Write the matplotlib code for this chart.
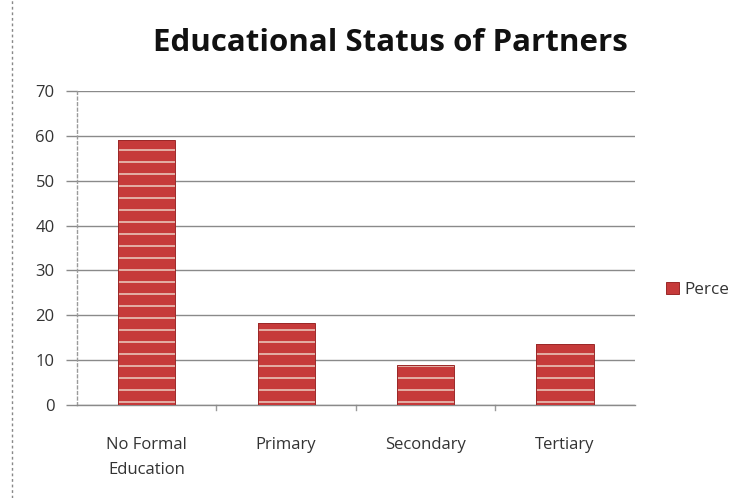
import matplotlib
matplotlib.use("Agg")
import matplotlib.pyplot as plt
from matplotlib.lines import Line2D
from matplotlib.patches import Patch

categories = ["No Formal\nEducation", "Primary", "Secondary", "Tertiary"]
values = [59, 18.2, 9, 13.6]
yticks = [0, 10, 20, 30, 40, 50, 60, 70]
series_name = "Perce"
title = "Educational Status of Partners"

DPI = 72
S = 100 / DPI  # keep sizes as if at 100 dpi

plt.rcParams['hatch.linewidth'] = 1.2 * S
plt.rcParams['font.family'] = ['Open Sans', 'DejaVu Sans']

fig = plt.figure(figsize=(733 / DPI, 498 / DPI), dpi=DPI)
ax = fig.add_axes([0.105, 0.187, 0.761, 0.630])

x = list(range(len(categories)))
# fill with light horizontal stripes
ax.bar(x, values, width=0.41, color='#c63a3a', edgecolor='#e8c2b8',
       linewidth=0, hatch='-', zorder=3)
# outline
bars = ax.bar(x, values, width=0.41, facecolor='none', edgecolor='#9a2828',
              linewidth=0.7 * S, label=series_name, zorder=4)

ax.set_xlim(-0.5, len(categories) - 0.5)
ax.set_ylim(0, 70)
ax.set_yticks(yticks)
ax.set_xticks(x)
ax.set_xticklabels(categories, fontsize=12 * S, color='#333333', linespacing=1.75)
ax.tick_params(axis='y', labelsize=12 * S, colors='#333333', length=8 * S,
               width=1 * S, pad=8 * S)
ax.tick_params(axis='x', length=0, pad=23 * S)
ax.yaxis.grid(True, color='#8a8a8a', linewidth=1.0 * S, zorder=0)
for sp in ['top', 'right']:
    ax.spines[sp].set_visible(False)
ax.spines['left'].set_color('#9a9a9a')
ax.spines['left'].set_linewidth(1 * S)
ax.spines['left'].set_linestyle((0, (2, 2)))
ax.spines['bottom'].set_color('#8a8a8a')
ax.spines['bottom'].set_linewidth(1 * S)
ax.tick_params(axis='y', color='#8a8a8a')

# category boundary tick marks
for b in [0.5, 1.5, 2.5]:
    ax.plot([b, b], [0, -1.2], color='#9a9a9a', lw=1 * S, clip_on=False)

fig.text(0.532, 0.913, title, ha='center', va='center', fontsize=22.5 * S,
         fontweight='bold', color='#111111')

handle = Patch(facecolor='#c63a3a', edgecolor='#9a2828', linewidth=0.7 * S)
leg = fig.legend(handles=[handle], labels=[series_name], loc='center left',
                 bbox_to_anchor=(0.909, 0.418), frameon=False, fontsize=12.3 * S,
                 handlelength=0.75, handleheight=0.75, handletextpad=0.3,
                 borderaxespad=0, borderpad=0)
for t in leg.get_texts():
    t.set_color('#333333')

# dashed left border
fig.add_artist(Line2D([0.016, 0.016], [0, 1], transform=fig.transFigure,
                      color='#888888', lw=1 * S, linestyle=(0, (2, 2))))

fig.savefig("out.png", dpi=DPI, facecolor='white')
